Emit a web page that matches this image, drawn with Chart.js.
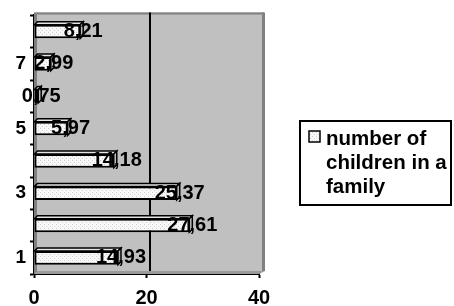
<!DOCTYPE html>
<html>
<head>
<meta charset="utf-8">
<script src="https://cdn.jsdelivr.net/npm/chart.js@4"></script>
<style>
  html, body { margin: 0; padding: 0; background: #fff; }
  #wrap { width: 454px; height: 306px; position: relative; }
</style>
</head>
<body>
<div id="wrap"><canvas id="chart" width="454" height="306"></canvas></div>
<script>
// ===== Data =====
const categories = ["1", "2", "3", "4", "5", "6", "7", "8"];
const childrenValues = [14.93, 27.61, 25.37, 14.18, 5.97, 0.75, 2.99, 8.21];
const xTicks = [0, 20, 40];
const seriesName = ["number of", "children in a", "family"];

const FONT = "'Liberation Sans', Arial, sans-serif";
const DEPTH = 3; // 3d offset of the back wall / bar tops

// dotted light fill like the old excel pattern
function dotPattern() {
  const c = document.createElement("canvas");
  c.width = 4;
  c.height = 4;
  const g = c.getContext("2d");
  g.fillStyle = "#f8f8f8";
  g.fillRect(0, 0, 4, 4);
  g.fillStyle = "#cccccc";
  g.fillRect(0, 0, 1, 1);
  g.fillRect(2, 2, 1, 1);
  return g.createPattern(c, "repeat");
}

const ctx = document.getElementById("chart").getContext("2d");
const pattern = dotPattern();

const fmt = (v) => v.toFixed(2).replace(".", ",");

// ===== Plugins =====
const wallPlugin = {
  id: "wall",
  beforeDatasetsDraw(chart) {
    const { ctx, chartArea: a, scales } = chart;
    ctx.save();
    // left side wall
    ctx.fillStyle = "#808080";
    ctx.fillRect(a.left, a.top - DEPTH, DEPTH + 1, a.bottom - a.top + DEPTH);
    // back wall
    ctx.fillStyle = "#c0c0c0";
    ctx.fillRect(a.left + DEPTH, a.top - DEPTH, a.right - a.left + 2, a.bottom - a.top);
    ctx.strokeStyle = "#808080";
    ctx.lineWidth = 2;
    ctx.beginPath();
    ctx.moveTo(a.left + DEPTH, a.top - DEPTH + 1);
    ctx.lineTo(a.right + DEPTH + 2, a.top - DEPTH + 1);
    ctx.stroke();
    ctx.lineWidth = 3;
    ctx.beginPath();
    ctx.moveTo(a.right + DEPTH + 1.5, a.top - DEPTH);
    ctx.lineTo(a.right + DEPTH + 1.5, a.bottom - DEPTH);
    ctx.stroke();
    // floor
    ctx.fillStyle = "#9a9a9a";
    ctx.beginPath();
    ctx.moveTo(a.left, a.bottom);
    ctx.lineTo(a.left + DEPTH, a.bottom - DEPTH);
    ctx.lineTo(a.right + DEPTH + 3, a.bottom - DEPTH);
    ctx.lineTo(a.right, a.bottom);
    ctx.fill();
    // gridline on the back wall
    ctx.strokeStyle = "#000";
    ctx.lineWidth = 2;
    xTicks.slice(1, -1).forEach((t) => {
      const x = Math.round(scales.x.getPixelForValue(t)) + DEPTH;
      ctx.beginPath();
      ctx.moveTo(x, a.top - DEPTH);
      ctx.lineTo(x, a.bottom - DEPTH);
      ctx.stroke();
    });
    ctx.restore();
  },
  afterDatasetsDraw(chart) {
    const { ctx } = chart;
    const meta = chart.getDatasetMeta(0);
    ctx.save();
    ctx.strokeStyle = "#000";
    ctx.lineWidth = 1.5;
    meta.data.forEach((bar) => {
      const { x, y, base, height } = bar.getProps(["x", "y", "base", "height"], true);
      const top = y - height / 2;
      const bot = y + height / 2;
      // top face
      ctx.fillStyle = "#e4e4e4";
      ctx.beginPath();
      ctx.moveTo(base, top);
      ctx.lineTo(base + DEPTH, top - DEPTH);
      ctx.lineTo(x + DEPTH, top - DEPTH);
      ctx.lineTo(x, top);
      ctx.closePath();
      ctx.fill();
      ctx.stroke();
      // end face
      ctx.fillStyle = "#bdbdbd";
      ctx.beginPath();
      ctx.moveTo(x, top);
      ctx.lineTo(x + DEPTH, top - DEPTH);
      ctx.lineTo(x + DEPTH, bot - DEPTH);
      ctx.lineTo(x, bot);
      ctx.closePath();
      ctx.fill();
      ctx.stroke();
    });
    // value labels centred on bar end
    ctx.fillStyle = "#000";
    ctx.font = `bold 20px ${FONT}`;
    ctx.textAlign = "center";
    ctx.textBaseline = "middle";
    meta.data.forEach((bar, i) => {
      ctx.fillText(fmt(childrenValues[i]), bar.x + DEPTH, bar.y);
    });
    ctx.restore();
  },
  afterDraw(chart) {
    // legend box on the right
    const { ctx } = chart;
    ctx.save();
    ctx.fillStyle = "#fff";
    ctx.fillRect(300, 121, 151, 84);
    ctx.strokeStyle = "#000";
    ctx.lineWidth = 2;
    ctx.strokeRect(300, 121, 151, 84);
    ctx.fillStyle = pattern;
    ctx.fillRect(309, 131, 11, 11);
    ctx.lineWidth = 1.5;
    ctx.strokeRect(309, 131, 11, 11);
    ctx.fillStyle = "#000";
    ctx.font = `bold 20.5px ${FONT}`;
    ctx.textAlign = "left";
    ctx.textBaseline = "alphabetic";
    seriesName.forEach((line, i) => ctx.fillText(line, 326, 145 + i * 24));
    ctx.restore();
  },
};

// ===== Chart =====
new Chart(ctx, {
  type: "bar",
  data: {
    labels: categories,
    datasets: [
      {
        label: seriesName.join(" "),
        data: childrenValues,
        backgroundColor: pattern,
        borderColor: "#000",
        borderWidth: 2,
        borderSkipped: false,
        categoryPercentage: 1,
        barPercentage: 0.42,
      },
    ],
  },
  options: {
    indexAxis: "y",
    responsive: false,
    animation: false,
    events: [],
    layout: { padding: { top: 14, right: 195, left: 0, bottom: 0 } },
    scales: {
      x: {
        min: 0,
        max: 40,
        afterBuildTicks: (s) => {
          s.ticks = xTicks.map((v) => ({ value: v }));
        },
        afterFit: (s) => {
          s.height = 32;
        },
        grid: {
          drawOnChartArea: false,
          tickLength: 4,
          tickColor: "#000",
          tickWidth: 2,
        },
        border: { color: "#000", width: 2 },
        ticks: {
          color: "#000",
          padding: 8,
          maxRotation: 0,
          font: { family: FONT, size: 20, weight: "bold" },
        },
      },
      y: {
        reverse: true,
        afterFit: (s) => {
          s.width = 34;
        },
        grid: {
          drawOnChartArea: false,
          offset: true,
          tickLength: 4,
          tickColor: "#000",
          tickWidth: 2,
        },
        border: { color: "#000", width: 2 },
        ticks: {
          color: "#000",
          padding: 4,
          autoSkip: false,
          font: { family: FONT, size: 19, weight: "bold" },
          callback: (v, i) => (i % 2 === 0 ? categories[i] : ""),
        },
      },
    },
    plugins: {
      legend: { display: false },
      tooltip: { enabled: false },
    },
  },
  plugins: [wallPlugin],
});
</script>
</body>
</html>
